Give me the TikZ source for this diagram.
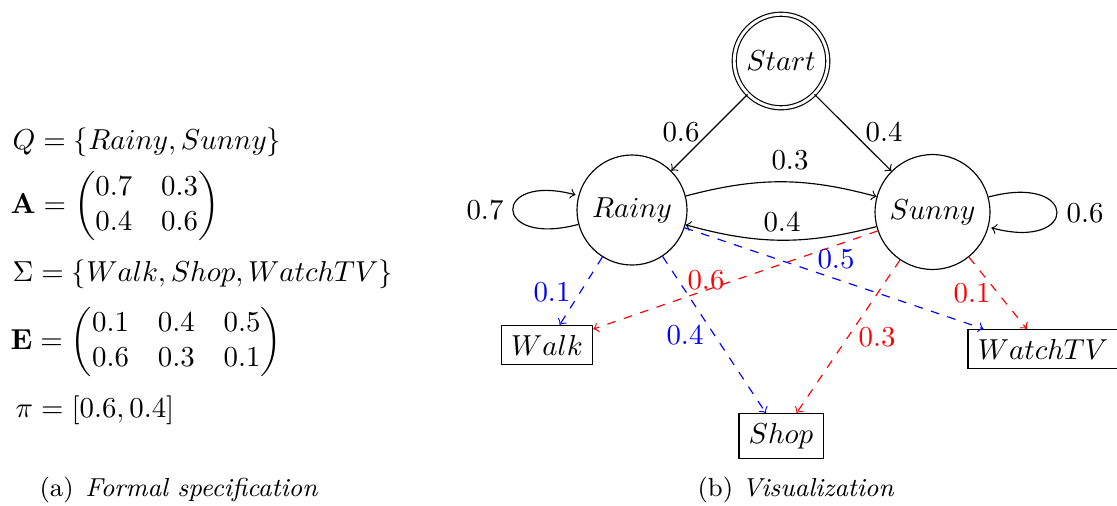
\documentclass[tikz,border=0pt]{standalone}
\usepackage{amsmath}
\begin{document}
\begin{tikzpicture}[x=0.3463pt,y=0.3463pt,
  state/.style={circle,draw,inner sep=0pt},
  startstate/.style={circle,draw,double,double distance=1pt,inner sep=0pt,minimum size=32.4pt},
  obs/.style={rectangle,draw,inner xsep=3.4pt,inner ysep=3.3pt},
  emit/.style={->,dashed},
  txt/.style={anchor=base west,inner sep=0pt},
  lbl/.style={inner sep=0pt}]
\useasboundingbox (0,0) rectangle (1117,-505);
% left column
\node[txt] (q) at (12,-149) {$Q = \{Rainy, Sunny\}$};
\node[txt] (amat) at (10,-213) {$\mathbf{A} = \begin{pmatrix}0.7 & 0.3\\ 0.4 & 0.6\end{pmatrix}$};
\node[txt] (sig) at (12,-281) {$\Sigma = \{Walk, Shop, WatchTV\}$};
\node[txt] (emat) at (10,-349) {$\mathbf{E} = \begin{pmatrix}0.1 & 0.4 & 0.5\\ 0.6 & 0.3 & 0.1\end{pmatrix}$};
\node[txt] (piv) at (15,-417) {$\pi = [0.6, 0.4]$};
\node[txt,font=\small] (capa) at (39,-496) {(a)\hspace{0.45em}\textit{Formal specification}};
\node[txt,font=\small] (capb) at (697,-496) {(b) \textit{Visualization}};
% diagram nodes
\node[startstate] (start) at (781,-61) {$Start$};
\node[state,minimum size=38.1pt] (rainy) at (632,-210) {$Rainy$};
\node[state,minimum size=39.8pt] (sunny) at (932.5,-212) {$Sunny$};
\node[obs] (walk) at (547,-345) {$Walk$};
\node[obs] (shop) at (781,-436) {$Shop$};
\node[obs] (watch) at (1043,-349) {$WatchTV$};
% transitions
\draw[->] (start) -- (rainy);
\draw[->] (start) -- (sunny);
\draw[->] (rainy) to[bend left=15] (sunny);
\draw[->] (sunny) to[bend left=15] (rainy);
\path[->] (rainy) edge[loop left] (rainy);
\path[->] (sunny) edge[loop right] (sunny);
% emissions
\draw[emit,blue] (rainy) -- (walk);
\draw[emit,blue] (rainy) -- (shop);
\draw[emit,blue] (rainy) -- (watch);
\draw[emit,red] (sunny) -- (walk);
\draw[emit,red] (sunny) -- (shop);
\draw[emit,red] (sunny) -- (watch);
% labels
\node[lbl] (l1) at (681,-132) {$0.6$};
\node[lbl] (l2) at (884,-132) {$0.4$};
\node[lbl] (l3) at (790,-160) {$0.3$};
\node[lbl] (l4) at (782,-222) {$0.4$};
\node[lbl] (l5) at (485,-210) {$0.7$};
\node[lbl] (l6) at (1085,-213) {$0.6$};
\node[lbl,text=blue] (b1) at (552,-292) {$0.1$};
\node[lbl,text=blue] (b2) at (685,-335) {$0.4$};
\node[lbl,text=blue] (b3) at (836,-259) {$0.5$};
\node[lbl,text=red] (r1) at (706,-280) {$0.6$};
\node[lbl,text=red] (r2) at (877,-337) {$0.3$};
\node[lbl,text=red] (r3) at (972,-293) {$0.1$};
\end{tikzpicture}
\end{document}
